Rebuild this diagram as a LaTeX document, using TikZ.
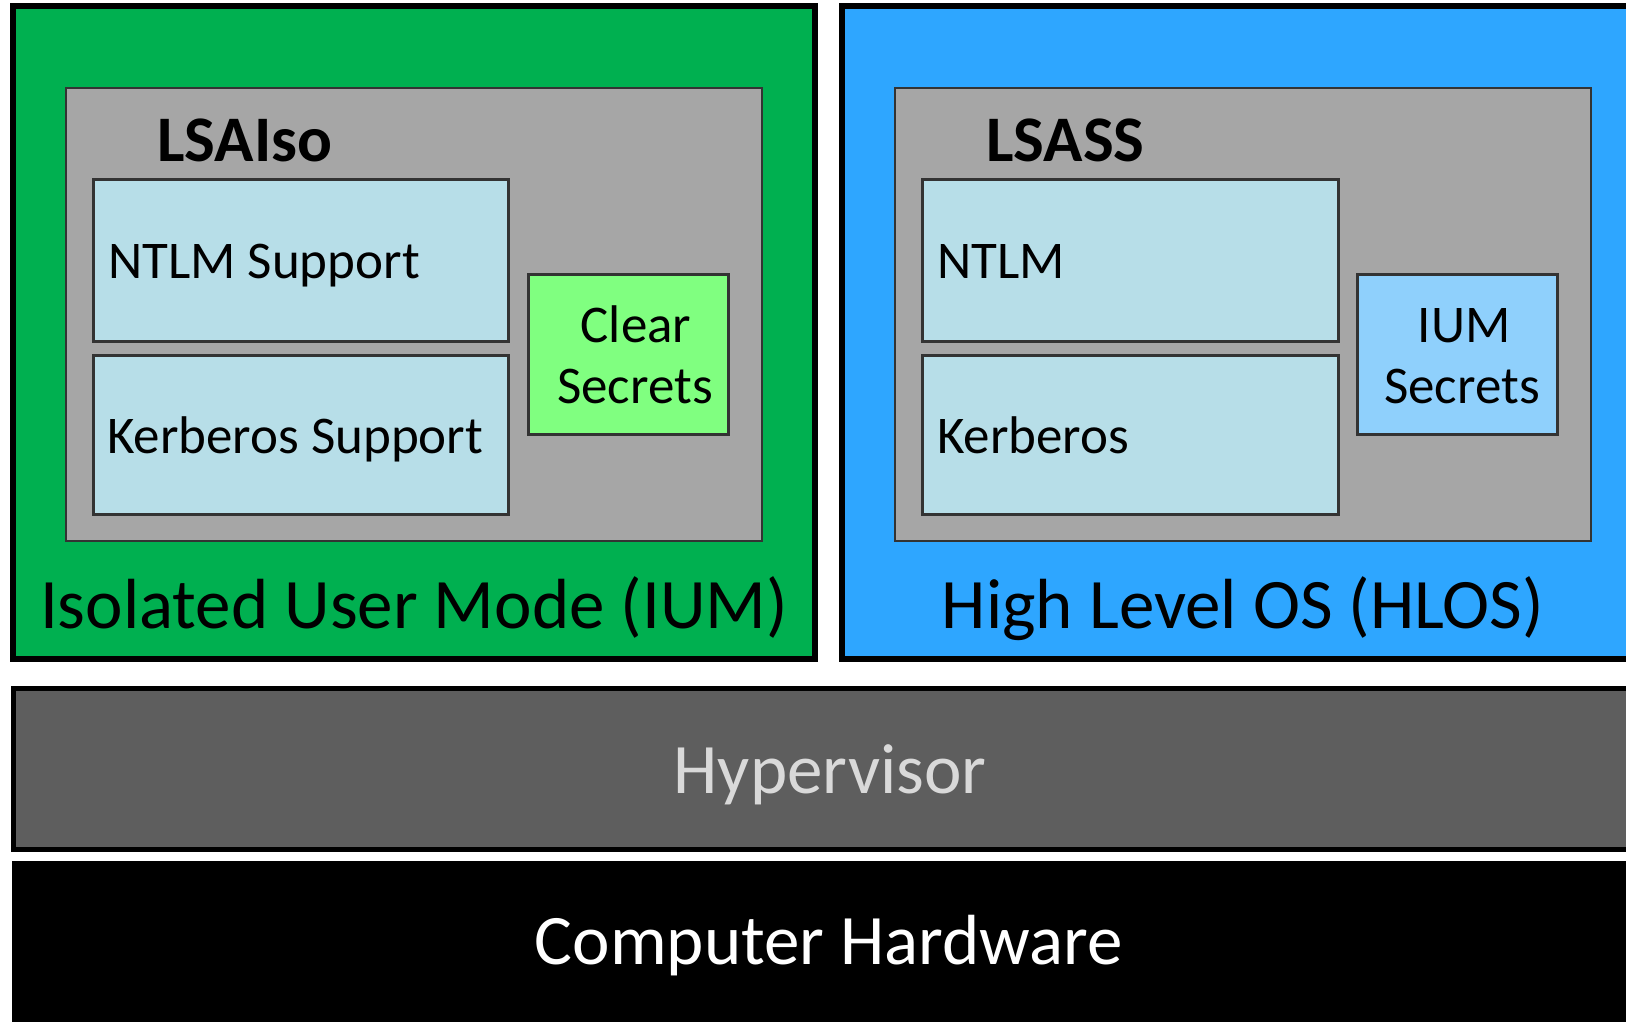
\documentclass[tikz,border=0pt]{standalone}
\usepackage{fontspec}
\setmainfont{Carlito}
\definecolor{iumgreen}{RGB}{0,176,80}
\definecolor{hlosblue}{RGB}{46,166,255}
\definecolor{procgray}{RGB}{166,166,166}
\definecolor{pkgblue}{RGB}{183,222,232}
\definecolor{cleargreen}{RGB}{128,255,128}
\definecolor{secblue}{RGB}{143,208,252}
\definecolor{hypgray}{RGB}{94,94,94}
\definecolor{hyptext}{RGB}{217,217,217}
\tikzset{
  outerbox/.style={draw=black, line width=6pt},
  procbox/.style={draw=black!80, line width=2.5pt, fill=procgray},
  pkgbox/.style={draw=black!80, line width=3pt, fill=pkgblue},
  secbox/.style={draw=black!80, line width=3pt},
  big/.style={font=\fontsize{71}{80}\selectfont, inner sep=0pt, anchor=base},
  title/.style={font=\bfseries\fontsize{65}{72}\selectfont, inner sep=0pt, anchor=base west},
  pkgtext/.style={font=\fontsize{53}{61}\selectfont, inner sep=0pt, anchor=base west},
}
\begin{document}
\begin{tikzpicture}[x=1pt,y=-1pt]
\useasboundingbox (0,0) rectangle (1626,1022);
\clip (0,0) rectangle (1626,1022);
\fill[white] (0,0) rectangle (1626,1022);
% outer boxes
\draw[outerbox, fill=iumgreen] (13,6.5) rectangle (815,659);
\draw[outerbox, fill=hlosblue] (842,6.5) rectangle (1660,659);
\draw[outerbox, fill=hypgray, line width=5pt] (13,688) rectangle (1660,849);
\fill[black] (11.5,860.5) rectangle (1660,1040);
% IUM side
\draw[procbox] (66,88) rectangle (762,541);
\node[title] (lsaiso) at (157,161) {LSAIso};
\draw[pkgbox] (93,180) rectangle (508,341);
\node[pkgtext] (ntlms) at (108,278) {NTLM Support};
\draw[pkgbox] (93,355) rectangle (508,514);
\node[pkgtext] (kerbs) at (107,453) {Kerberos Support};
\draw[secbox, fill=cleargreen] (528,274) rectangle (728,434);
\node[pkgtext, anchor=base] (clear1) at (636,342) {Clear};
\node[pkgtext, anchor=base] (clear2) at (635,403) {Secrets};
\node[big] (ium) at (414,628) {Isolated User Mode (IUM)};
% HLOS side
\draw[procbox] (895,88) rectangle (1591,541);
\node[title] (lsass) at (986,161) {LSASS};
\draw[pkgbox] (922,180) rectangle (1338,341);
\node[pkgtext] (ntlm) at (937,278) {NTLM};
\draw[pkgbox] (922,355) rectangle (1338,514);
\node[pkgtext] (kerb) at (937,453) {Kerberos};
\draw[secbox, fill=secblue] (1357,274) rectangle (1557,434);
\node[pkgtext, anchor=base] (ium1) at (1464,342) {IUM};
\node[pkgtext, anchor=base] (ium2) at (1462,403) {Secrets};
\node[big] (hlos) at (1243,628) {High Level OS (HLOS)};
% lower layers
\node[big, text=hyptext] (hyp) at (830,793) {Hypervisor};
\node[big, text=white] (hw) at (829,964) {Computer Hardware};
\end{tikzpicture}
\end{document}
